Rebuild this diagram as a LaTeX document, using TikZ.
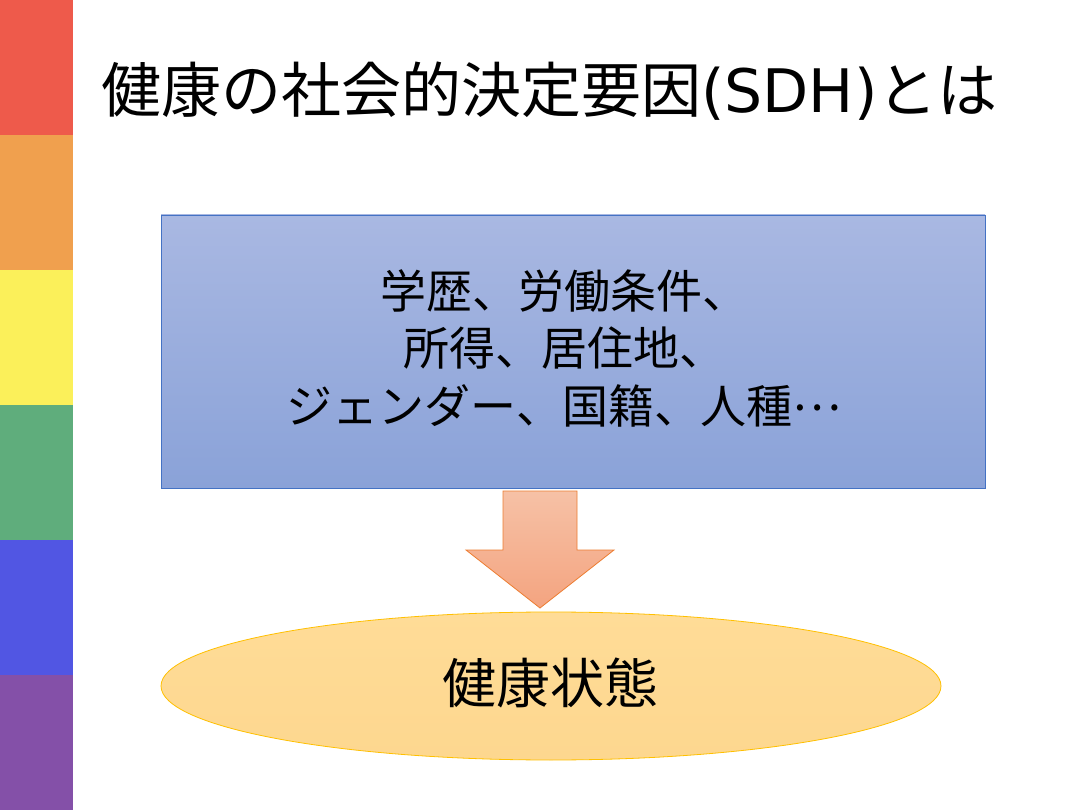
\documentclass[tikz,border=0pt]{standalone}
\usepackage{fontspec}
\setmainfont{Noto Sans CJK JP}
\newfontfamily\latinfont{DejaVu Sans}
\usetikzlibrary{shapes.geometric}
\definecolor{cRed}{HTML}{EE5A4B}
\definecolor{cOrange}{HTML}{F0A04E}
\definecolor{cYellow}{HTML}{FBF05A}
\definecolor{cGreen}{HTML}{5FAD7C}
\definecolor{cBlue}{HTML}{5156E3}
\definecolor{cPurple}{HTML}{8450A8}
\definecolor{boxTop}{HTML}{A9B8E2}
\definecolor{boxBot}{HTML}{8AA2D8}
\definecolor{boxLine}{HTML}{4472C4}
\definecolor{arrTop}{HTML}{F6C1A6}
\definecolor{arrBot}{HTML}{F4A480}
\definecolor{arrLine}{HTML}{ED7D31}
\definecolor{ellTop}{HTML}{FFDC97}
\definecolor{ellBot}{HTML}{FDD78F}
\definecolor{ellLine}{HTML}{FFC000}
\tikzset{
  band/.style={fill=#1, draw=none},
  factorbox/.style={draw=boxLine, line width=0.8pt, top color=boxTop, bottom color=boxBot, rectangle, inner sep=0pt},
  statebox/.style={draw=ellLine, line width=0.8pt, top color=ellTop, bottom color=ellBot, ellipse, inner sep=0pt},
  blockarrow/.style={draw=arrLine, line width=0.8pt, top color=arrTop, bottom color=arrBot},
  txt/.style={inner sep=0pt, text=black}
}
\begin{document}
\begin{tikzpicture}[x=1pt,y=-1pt]
\useasboundingbox (0,0) rectangle (1080,810);
\fill[white] (0,0) rectangle (1080,810);
% rainbow stripe
\fill[band=cRed]    (0,0)   rectangle (73,135);
\fill[band=cOrange] (0,135) rectangle (73,270);
\fill[band=cYellow] (0,270) rectangle (73,405);
\fill[band=cGreen]  (0,405) rectangle (73,540);
\fill[band=cBlue]   (0,540) rectangle (73,675);
\fill[band=cPurple] (0,675) rectangle (73,810);
% title
\node[txt, anchor=base west] (title) at (101,113)
  {\fontsize{60}{72}\selectfont 健康の社会的決定要因{\latinfont (SDH)}とは};
% factors box
\node[factorbox, minimum width=824pt, minimum height=273pt] (factors) at (573,351.5) {};
\node[txt, align=center, font=\fontsize{46}{57.5}\selectfont] (factortext) at (564,348)
  {学歴、労働条件、\\所得、居住地、\\ジェンダー、国籍、人種\raisebox{0.27em}{…}};
% health state ellipse
\node[statebox, minimum width=780pt, minimum height=148pt] (state) at (551,686) {};
\node[txt, font=\fontsize{54}{64}\selectfont] (statetext) at (550,683) {健康状態};
% block arrow
\coordinate (atop) at (540,491);
\coordinate (atip) at (540,608);
\draw[blockarrow] ([xshift=-37pt]atop) -- ([xshift=37pt]atop) -- ([xshift=37pt,yshift=-59pt]atop)
  -- ([xshift=74pt,yshift=-59pt]atop) -- (atip) -- ([xshift=-74pt,yshift=-59pt]atop)
  -- ([xshift=-37pt,yshift=-59pt]atop) -- cycle;
\end{tikzpicture}
\end{document}
